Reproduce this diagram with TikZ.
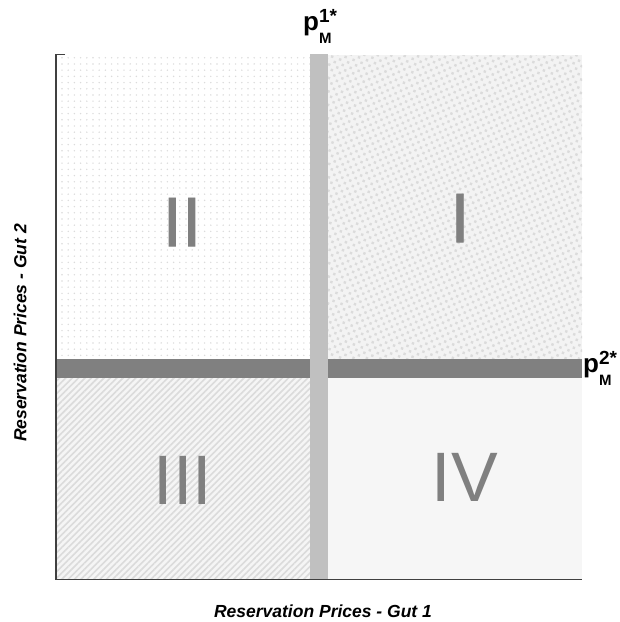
\documentclass[tikz,border=0pt]{standalone}
\usepackage{fontspec}
\setmainfont{Liberation Sans}
\newfontfamily\heavynum[FakeBold=1.2]{Liberation Sans}
\usetikzlibrary{patterns.meta}
\definecolor{numgray}{HTML}{808080}
\definecolor{vbar}{HTML}{C0C0C0}
\definecolor{hbar}{HTML}{808080}
\definecolor{qfour}{HTML}{F6F6F6}
\definecolor{qone}{HTML}{F3F3F3}
% #1 superscript text
\newcommand{\pricesym}[1]{{\fontsize{26}{26}\selectfont\bfseries p}\rlap{\raisebox{8pt}{\fontsize{19}{19}\selectfont\bfseries #1}}\raisebox{-13pt}{\fontsize{15}{15}\selectfont\bfseries M}}
\tikzset{
  numeral/.style={text=numgray, font=\fontsize{70}{70}\selectfont, inner sep=0pt, anchor=center},
  heavynumeral/.style={numeral, font=\fontsize{70}{70}\selectfont\heavynum},
  axislabel/.style={font=\fontsize{17.5}{17.5}\selectfont\bfseries\itshape, inner sep=0pt},
  pricelabel/.style={inner sep=0pt, anchor=base west},
  axisline/.style={line width=1.8pt, draw=black!75}
}
\begin{document}
\begin{tikzpicture}[x=1pt,y=-1pt]
\useasboundingbox (0,0) rectangle (620,622);
\fill[white] (0,0) rectangle (620,622);
% quadrant II: sparse dots
\fill[pattern={Dots[distance=6.2pt, radius=0.8pt]}, pattern color=black!14] (57,55) rectangle (310,359);
% quadrant I: dense squares
\fill[qone] (328,55) rectangle (582,359);
\fill[pattern={Dots[distance=6pt, radius=1.7pt, angle=25]}, pattern color=black!14] (328,55) rectangle (582,359);
% quadrant III: diagonal lines
\fill[black!4] (57,378) rectangle (310,579);
\fill[pattern={Lines[angle=45, distance=4.5pt, line width=1.6pt]}, pattern color=black!14] (57,378) rectangle (310,579);
% quadrant IV
\fill[qfour] (328,378) rectangle (582,579);
% bars
\fill[hbar] (57,359) rectangle (582,378);
\fill[vbar] (310,54) rectangle (328,579);
% axes
\draw[axisline] (65,54.5) -- (56,54.5) -- (56,579.5) -- (582,579.5);
% numerals
\node[heavynumeral] (q2) at (182,222) {II};
\node[heavynumeral] (q1) at (460,218) {I};
\node[numeral] (q3) at (183,480) {III};
\node[numeral] (q4) at (465,477) {IV};
% price labels
\node[pricelabel] (p1) at (303,30) {\pricesym{1*}};
\node[pricelabel] (p2) at (583,372) {\pricesym{2*}};
% axis labels
\node[axislabel] (xl) at (323,611) {Reservation Prices - Gut 1};
\node[axislabel, rotate=90] (yl) at (20,333) {Reservation Prices - Gut 2};
\end{tikzpicture}
\end{document}
